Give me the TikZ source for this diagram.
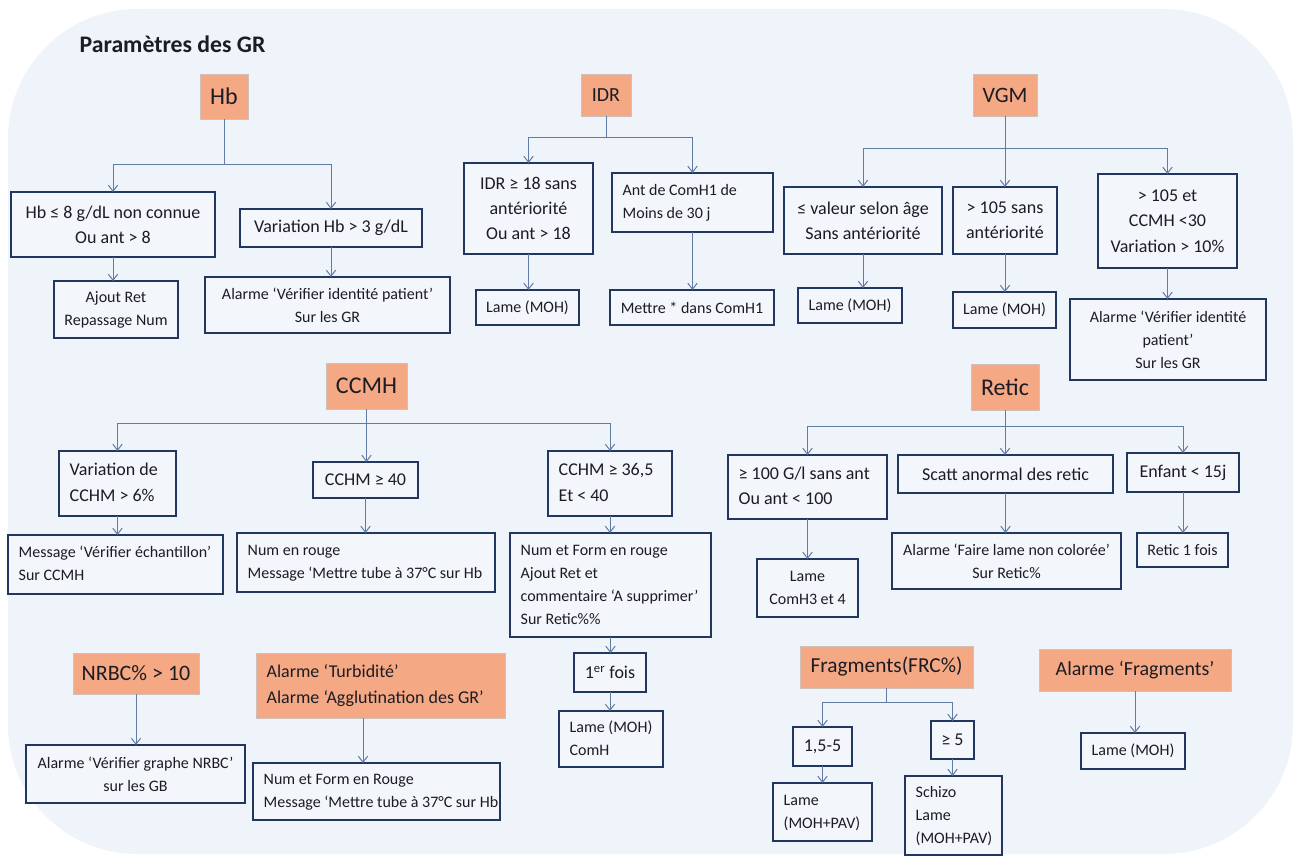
\documentclass[tikz,border=0pt]{standalone}
\usepackage{fontspec}
\setmainfont{Carlito}
\usetikzlibrary{arrows.meta}

\definecolor{bgcol}{RGB}{239,243,250}
\definecolor{boxfill}{RGB}{243,246,251}
\definecolor{boxline}{RGB}{33,55,95}
\definecolor{headfill}{RGB}{245,168,132}
\definecolor{headline}{RGB}{208,192,186}
\definecolor{linkcol}{RGB}{96,124,162}
\definecolor{inkcol}{RGB}{28,28,36}

% centred box from corner (x1,y1) to (x2,y2), in pixel units
\newcommand\pbox[7]{%
  \pgfmathsetmacro\bw{(#4-#2)*0.75}%
  \pgfmathsetmacro\bh{(#5-#3)*0.75}%
  \node[#6, minimum width=\bw pt, minimum height=\bh pt]
    (#1) at ({(#2+#4)/2},{(#3+#5)/2}) {#7};}

% same, with the lines set flush left after a fixed padding
\newcommand\plbox[7]{%
  \pgfmathsetmacro\bw{(#4-#2)*0.75}%
  \pgfmathsetmacro\bh{(#5-#3)*0.75}%
  \pgfmathsetmacro\tw{(#4-#2)*0.75-16}%
  \node[#6, minimum width=\bw pt, minimum height=\bh pt]
    (#1) at ({(#2+#4)/2},{(#3+#5)/2})
    {\makebox[\tw pt][l]{\begin{tabular}{@{}l@{}}#7\end{tabular}}};}

\tikzset{
  base/.style={inner sep=0pt, outer sep=0pt, text=inkcol},
  cbox/.style={base, draw=boxline, fill=boxfill, line width=1pt, align=center},
  head/.style={base, draw=headline, fill=headfill, line width=0.6pt, align=center},
  fa/.style={font=\fontsize{13.5}{19}\selectfont},
  fb/.style={font=\fontsize{12}{17.3}\selectfont},
  conn/.style={draw=linkcol, line width=0.75pt,
    -{Straight Barb[length=4.5pt,width=7pt]}},
}

\begin{document}
\begin{tikzpicture}[x=0.75pt, y=-0.75pt]
\useasboundingbox (0,0) rectangle (1300,856);
\fill[white] (0,0) rectangle (1300,856);
\fill[bgcol, rounded corners=97pt] (8,9) rectangle (1293,854);

\node[anchor=base west, text=inkcol, font=\fontsize{17.8}{20}\selectfont\bfseries]
  (title) at (75,53) {Paramètres des GR};

% ---------- Hb ----------
\pbox{hb}{200}{74}{248}{119}{head, font=\fontsize{18}{22}\selectfont}{Hb}
\pbox{hb1}{11}{192}{215}{257}{cbox, fa}{Hb ≤ 8 g/dL non connue\\Ou ant > 8}
\pbox{hb2}{240}{209}{422}{247}{cbox, fa}{Variation Hb > 3 g/dL}
\pbox{hb1a}{54}{281}{178}{338}{cbox, fb}{Ajout Ret\\Repassage Num}
\pbox{hb2a}{205}{277}{450}{333}{cbox, fb}{Alarme ‘Vérifier identité patient’\\Sur les GR}
\coordinate (hbj) at (hb.south |- 0,164);
\draw[conn] (hb.south) -- (hbj) -| (hb1.north);
\draw[conn] (hb.south) -- (hbj) -| (hb2.north);
\draw[conn] (hb1.south) -- (hb1.south |- hb1a.north);
\draw[conn] (hb2.south) -- (hb2.south |- hb2a.north);

% ---------- IDR ----------
\pbox{idr}{581}{74}{631}{116}{head, font=\fontsize{15}{18}\selectfont}{IDR}
\pbox{idr1}{464}{163}{593}{254}{cbox, fa}{IDR ≥ 18 sans\\antériorité\\Ou ant > 18}
\plbox{idr2}{612}{173}{773}{232}{cbox, fb}{Ant de ComH1 de\\Moins de 30 j}
\pbox{idr1a}{476}{290}{579}{325}{cbox, fb}{Lame (MOH)}
\pbox{idr2a}{610}{290}{774}{325}{cbox, fb}{Mettre * dans ComH1}
\coordinate (idrj) at (idr.south |- 0,137);
\draw[conn] (idr.south) -- (idrj) -| (idr1.north);
\draw[conn] (idr.south) -- (idrj) -| (idr2.north);
\draw[conn] (idr1.south) -- (idr1.south |- idr1a.north);
\draw[conn] (idr2.south) -- (idr2.south |- idr2a.north);

% ---------- VGM ----------
\pbox{vgm}{973}{74}{1037}{116}{head, font=\fontsize{16.5}{20}\selectfont}{VGM}
\pbox{v1}{784}{187}{942}{254}{cbox, fa}{≤ valeur selon âge\\Sans antériorité}
\pbox{v2}{953}{187}{1057}{254}{cbox, fa}{> 105 sans\\antériorité}
\pbox{v3}{1098}{174}{1237}{268}{cbox, fa}{> 105 et\\CCMH <30\\Variation > 10\%}
\pbox{v1a}{798}{288}{902}{323}{cbox, fb}{Lame (MOH)}
\pbox{v2a}{953}{292}{1056}{328}{cbox, fb}{Lame (MOH)}
\pbox{v3a}{1070}{299}{1266}{380}{cbox, fb}{Alarme ‘Vérifier identité\\patient’\\Sur les GR}
\coordinate (vgmj) at (vgm.south |- 0,148);
\draw[conn] (vgm.south) -- (vgmj) -| (v1.north);
\draw[conn] (vgm.south) -- (vgm.south |- v2.north);
\draw[conn] (vgm.south) -- (vgmj) -| (v3.north);
\draw[conn] (v1.south) -- (v1.south |- v1a.north);
\draw[conn] (v2.south) -- (v2.south |- v2a.north);
\draw[conn] (v3.south) -- (v3.south |- v3a.north);

% ---------- CCMH ----------
\pbox{ccmh}{326}{363}{407}{409}{head, font=\fontsize{18}{22}\selectfont}{CCMH}
\plbox{c1}{59}{451}{176}{516}{cbox, fa}{Variation de\\CCHM > 6\%}
\pbox{c2}{313}{462}{418}{498}{cbox, fa}{CCHM ≥ 40}
\plbox{c3}{548}{451}{672}{516}{cbox, fa}{CCHM ≥ 36,5\\Et < 40}
\plbox{c1a}{8}{535}{223}{594}{cbox, fb}{Message ‘Vérifier échantillon’\\Sur CCMH}
\plbox{c2a}{237}{533}{495}{592}{cbox, fb}{Num en rouge\\Message ‘Mettre tube à 37°C sur Hb}
\plbox{c3a}{510}{533}{711}{637}{cbox, fb}{Num et Form en rouge\\Ajout Ret et\\commentaire ‘A supprimer’\\Sur Retic\%\%}
\pbox{c3b}{574}{653}{646}{692}{cbox, fa}{1\textsuperscript{er} fois}
\plbox{c3c}{559}{711}{663}{767}{cbox, fb}{Lame (MOH)\\ComH}
\coordinate (ccmhj) at (ccmh.south |- 0,423);
\draw[conn] (ccmh.south) -- (ccmhj) -| (c1.north);
\draw[conn] (ccmh.south) -- (ccmh.south |- c2.north);
\draw[conn] (ccmh.south) -- (ccmhj) -| (c3.north);
\draw[conn] (c1.south) -- (c1.south |- c1a.north);
\draw[conn] (c2.south) -- (c2.south |- c2a.north);
\draw[conn] (c3.south) -- (c3.south |- c3a.north);
\draw[conn] (c3a.south) -- (c3a.south |- c3b.north);
\draw[conn] (c3b.south) -- (c3b.south |- c3c.north);

% ---------- Retic ----------
\pbox{retic}{971}{364}{1039}{410}{head, font=\fontsize{18}{22}\selectfont}{Retic}
\plbox{r1}{728}{455}{887}{519}{cbox, fa}{≥ 100 G/l sans ant\\Ou ant < 100}
\pbox{r2}{898}{455}{1113}{493}{cbox, fa}{Scatt anormal des retic}
\pbox{r3}{1127}{453}{1239}{492}{cbox, fa}{Enfant < 15j}
\pbox{r1a}{757}{559}{858}{617}{cbox, fb}{Lame\\ComH3 et 4}
\pbox{r2a}{892}{533}{1121}{589}{cbox, fb}{Alarme ‘Faire lame non colorée’\\Sur Retic\%}
\pbox{r3a}{1137}{533}{1228}{567}{cbox, fb}{Retic 1 fois}
\coordinate (reticj) at (retic.south |- 0,426);
\draw[conn] (retic.south) -- (reticj) -| (r1.north);
\draw[conn] (retic.south) -- (retic.south |- r2.north);
\draw[conn] (retic.south) -- (reticj) -| (r3.north);
\draw[conn] (r1.south) -- (r1.south |- r1a.north);
\draw[conn] (r2.south) -- (r2.south |- r2a.north);
\draw[conn] (r3.south) -- (r3.south |- r3a.north);

% ---------- NRBC and turbidity ----------
\pbox{nrbc}{73}{653}{199}{694}{head, font=\fontsize{16.5}{20}\selectfont}{NRBC\% > 10}
\pbox{n1}{26}{745}{245}{803}{cbox, fb}{Alarme ‘Vérifier graphe NRBC’\\sur les GB}
\plbox{turb}{256}{653}{505}{718}{head, fa}{Alarme ‘Turbidité’\\Alarme ‘Agglutination des GR’}
\plbox{n2}{253}{763}{500}{820}{cbox, fb}{Num et Form en Rouge\\Message ‘Mettre tube à 37°C sur Hb}
\draw[conn] (nrbc.south) -- (nrbc.south |- n1.north);
\draw[conn] (363,0 |- turb.south) -- (363,0 |- n2.north);

% ---------- Fragments ----------
\pbox{frag}{800}{646}{973}{688}{head, font=\fontsize{16}{20}\selectfont}{Fragments(FRC\%)}
\pbox{f1}{793}{727}{852}{766}{cbox, fa}{1,5-5}
\pbox{f2}{931}{721}{974}{759}{cbox, fa}{≥ 5}
\plbox{f1a}{773}{783}{872}{841}{cbox, fb}{Lame\\(MOH+PAV)}
\plbox{f2a}{905}{776}{1002}{855}{cbox, fb}{Schizo\\Lame\\(MOH+PAV)}
\coordinate (fragj) at (frag.south |- 0,702);
\draw[conn] (frag.south) -- (fragj) -| (f1.north);
\draw[conn] (frag.south) -- (fragj) -| (f2.north);
\draw[conn] (f1.south) -- (f1.south |- f1a.north);
\draw[conn] (f2.south) -- (f2.south |- f2a.north);

\pbox{afrag}{1039}{649}{1231}{691}{head, font=\fontsize{15}{18}\selectfont}{Alarme ‘Fragments’}
\pbox{fa}{1081}{733}{1185}{769}{cbox, fb}{Lame (MOH)}
\draw[conn] (afrag.south) -- (afrag.south |- fa.north);
\end{tikzpicture}
\end{document}
